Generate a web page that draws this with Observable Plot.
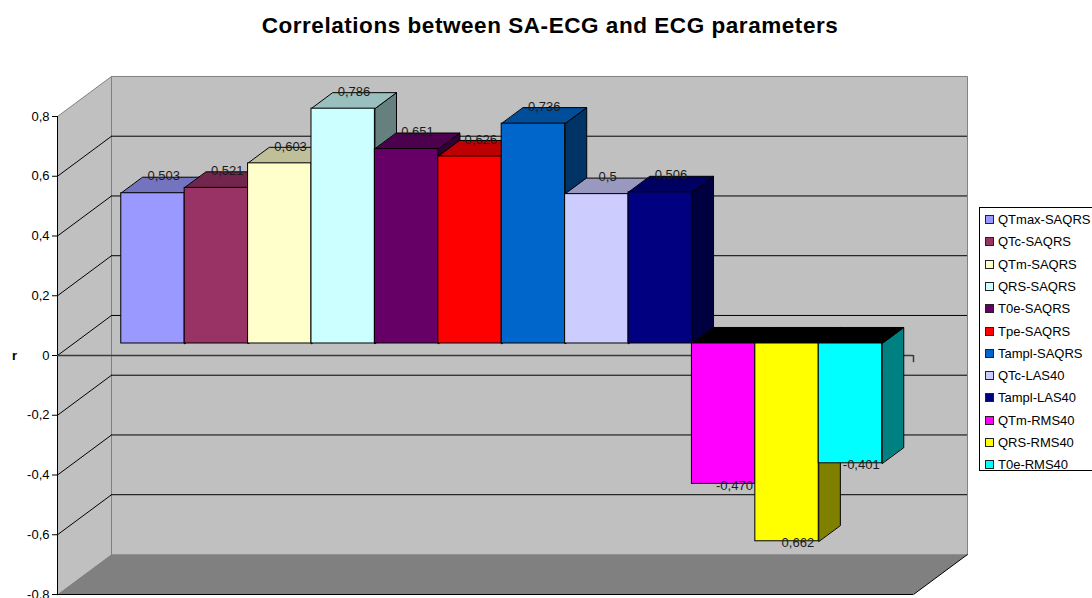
<!DOCTYPE html>
<html>
<head>
<meta charset="utf-8">
<script src="https://cdn.jsdelivr.net/npm/d3@7"></script>
<script src="https://cdn.jsdelivr.net/npm/@observablehq/plot@0.6"></script>
<style>
  html, body { margin: 0; padding: 0; background: #fff; }
  body { width: 1092px; height: 598px; overflow: hidden; position: relative; font-family: "Liberation Sans", Arial, sans-serif; }
  #title { position: absolute; left: 0; top: 13px; width: 1100px; text-align: center; font-weight: bold; font-size: 22.5px; letter-spacing: 0.55px; color: #000; }
  #chart { position: absolute; left: 0; top: 0; }
  #legend { position: absolute; left: 979px; top: 207px; width: 140px; height: 264px; border: 1px solid #000; background: #fff; box-sizing: border-box; }
  .item { position: absolute; left: 5px; font-size: 13px; line-height: 14px; color: #000; white-space: nowrap; }
  .sw { display: inline-block; width: 7px; height: 7px; border: 1px solid #222; margin-right: 4px; vertical-align: 0px; }
</style>
</head>
<body>
<div id="title">Correlations between SA-ECG and ECG parameters</div>
<div id="chart"></div>
<div id="legend"></div>
<script>
// ---- data ----
const categories = ["QTmax-SAQRS","QTc-SAQRS","QTm-SAQRS","QRS-SAQRS","T0e-SAQRS","Tpe-SAQRS","Tampl-SAQRS","QTc-LAS40","Tampl-LAS40","QTm-RMS40","QRS-RMS40","T0e-RMS40"];
const values = [0.503, 0.521, 0.603, 0.786, 0.651, 0.626, 0.736, 0.5, 0.506, -0.470, -0.662, -0.401];
const valueLabels = ["0,503","0,521","0,603","0,786","0,651","0,626","0,736","0,5","0,506","-0,470","0,662","-0,401"];
const colors = ["#9999FF","#993366","#FFFFCC","#CCFFFF","#660066","#FF0000","#0066CC","#CCCCFF","#000080","#FF00FF","#FFFF00","#00FFFF"];
const yTicks = [-0.8, -0.6, -0.4, -0.2, 0, 0.2, 0.4, 0.6, 0.8];
const yTickLabels = ["-0,8","-0,6","-0,4","-0,2","0","0,2","0,4","0,6","0,8"];
const gridValues = [-0.6, -0.4, -0.2, 0, 0.2, 0.4, 0.6];

// ---- 3D geometry (in data units) ----
const XMIN = 0, XMAX = 13.5, GAP = 0.75;
const YMIN = -0.8, YMAX = 0.8;
const WX = 0.852, WY = 0.134;     // depth vector of the chart box
const F0 = 0.3, F1 = 0.7;         // bar depth span (fractions)
const dX = (F1 - F0) * WX, dY = (F1 - F0) * WY;

function shade(c, k) {
  const r = d3.rgb(c);
  return d3.rgb(r.r * k, r.g * k, r.b * k).formatHex();
}

let pid = 0;
function poly(arr, pts, fill) {
  const id = pid++;
  pts.forEach(([x, y]) => arr.push({id, x, y, fill}));
}

const walls = [];
poly(walls, [[XMIN, YMIN], [XMIN, YMAX], [XMIN + WX, YMAX + WY], [XMIN + WX, YMIN + WY]], "#c0c0c0");
poly(walls, [[XMIN + WX, YMIN + WY], [XMIN + WX, YMAX + WY], [XMAX + WX, YMAX + WY], [XMAX + WX, YMIN + WY]], "#c0c0c0");
const floor = [];
poly(floor, [[XMIN, YMIN], [XMAX, YMIN], [XMAX + WX, YMIN + WY], [XMIN + WX, YMIN + WY]], "#808080");

const bars = values.map((v, i) => {
  const x0 = GAP + i + F0 * WX;
  return {i, v, x0, x1: x0 + 1, base: F0 * WY, end: v + F0 * WY, color: colors[i], label: valueLabels[i]};
});
const sides = [], tops = [];
bars.forEach(b => {
  const yt = Math.max(b.base, b.end), yb = Math.min(b.base, b.end);
  poly(sides, [[b.x1, yb], [b.x1, yt], [b.x1 + dX, yt + dY], [b.x1 + dX, yb + dY]], shade(b.color, 0.5));
  poly(tops, [[b.x0, yt], [b.x1, yt], [b.x1 + dX, yt + dY], [b.x0 + dX, yt + dY]], b.v >= 0 ? shade(b.color, 0.75) : "#000000");
});

const grid = gridValues.map(t => ({t}));

const chart = Plot.plot({
  width: 975,
  height: 598,
  marginLeft: 57,
  marginRight: 62,
  marginTop: 116,
  marginBottom: 4,
  style: {fontSize: "13px", fontFamily: "Liberation Sans, Arial, sans-serif", background: "transparent", color: "#000", overflow: "visible"},
  x: {domain: [XMIN, XMAX], axis: null},
  y: {
    domain: [YMIN, YMAX],
    ticks: yTicks,
    tickFormat: d => yTickLabels[yTicks.findIndex(t => Math.abs(t - d) < 1e-9)],
    tickSize: 5,
    tickPadding: 3,
    label: null
  },
  color: {type: "identity"},
  marks: [
    Plot.line(walls, {x: "x", y: "y", z: "id", fill: "fill", stroke: "#808080", strokeWidth: 1, curve: "linear-closed"}),
    Plot.line(floor, {x: "x", y: "y", z: "id", fill: "fill", stroke: "none", curve: "linear-closed"}),
    Plot.ruleY(grid, {y: d => d.t + WY, x1: XMIN + WX, x2: XMAX + WX, stroke: "#000", strokeWidth: 1}),
    Plot.link(grid, {x1: XMIN, y1: d => d.t, x2: XMIN + WX, y2: d => d.t + WY, stroke: "#000", strokeWidth: 1}),
    Plot.link([YMIN], {x1: XMAX, y1: d => d, x2: XMAX + WX, y2: d => d + WY, stroke: "#000", strokeWidth: 1}),
    Plot.ruleY([YMIN], {x1: XMIN, x2: XMAX, stroke: "#000", strokeWidth: 1}),
    Plot.ruleX([XMIN], {y1: YMIN, y2: YMAX, stroke: "#000", strokeWidth: 1}),
    Plot.ruleY([0], {x1: XMIN, x2: XMAX, stroke: "#3a3a3a", strokeWidth: 1.5}),
    Plot.ruleX([XMAX], {y1: 0, y2: -0.024, stroke: "#3a3a3a", strokeWidth: 1.5}),
    Plot.line(sides, {x: "x", y: "y", z: "id", fill: "fill", stroke: "#000", strokeWidth: 1, curve: "linear-closed"}),
    Plot.line(tops, {x: "x", y: "y", z: "id", fill: "fill", stroke: "#000", strokeWidth: 1, curve: "linear-closed"}),
    Plot.rect(bars, {x1: "x0", x2: "x1", y1: "base", y2: "end", fill: "color", stroke: "#000", strokeWidth: 1}),
    Plot.text(bars.filter(b => b.v >= 0), {x: b => b.x0 + 0.5 + dX / 2, y: b => b.end + dY, text: "label", dy: -1, fill: "#1a1a1a", fontSize: 13}),
    Plot.text(bars.filter(b => b.v < 0), {x: b => b.x0 + 0.5 + dX / 2, y: b => b.end, text: "label", dy: 2, fill: "#1a1a1a", fontSize: 13}),
    Plot.text(["r"], {x: XMIN, y: 0, text: d => d, dx: -43, fontWeight: "bold", fontSize: 13})
  ]
});
document.getElementById("chart").appendChild(chart);

// legend
const legend = document.getElementById("legend");
categories.forEach((c, i) => {
  const el = document.createElement("div");
  el.className = "item";
  el.style.top = (5 + i * 22.3) + "px";
  el.innerHTML = `<span class="sw" style="background:${colors[i]}"></span>`;
  el.appendChild(document.createTextNode(c));
  legend.appendChild(el);
});
</script>
</body>
</html>
